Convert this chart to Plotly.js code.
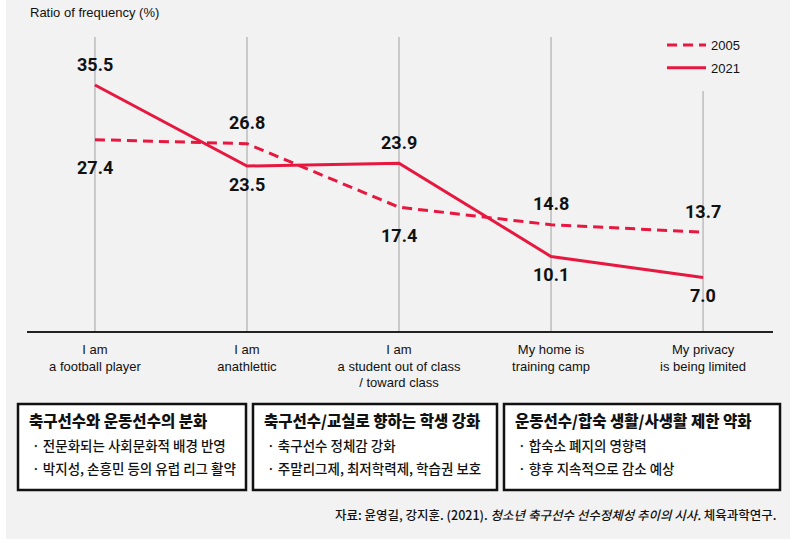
<!DOCTYPE html>
<html>
<head>
<meta charset="utf-8">
<script src="https://cdn.plot.ly/plotly-3.0.1.min.js"></script>
<style>html,body{margin:0;padding:0;background:#fff}</style>
</head>
<body>
<div id="chart" style="width:800px;height:543px"></div>
<script>
// ---- data ----
const categories = [
  'I am<br>a football player',
  'I am<br>anathlettic',
  'I am<br>a student out of class<br>/ toward class',
  'My home is<br>training camp',
  'My privacy<br>is being limited'
];
const seriesNames = ['2005', '2021'];
const values2005 = [27.4, 26.8, 17.4, 14.8, 13.7];
const values2021 = [35.5, 23.5, 23.9, 10.1, 7.0];
const yAxisTitle = 'Ratio of frequency (%)';

const boxTitles = [
  '축구선수와 운동선수의 분화',
  '축구선수/교실로 향하는 학생 강화',
  '운동선수/합숙 생활/사생활 제한 약화'
];
const boxBullets = [
  ['전문화되는 사회문화적 배경 반영', '박지성, 손흥민 등의 유럽 리그 활약'],
  ['축구선수 정체감 강화', '주말리그제, 최저학력제, 학습권 보호'],
  ['합숙소 폐지의 영향력', '향후 지속적으로 감소 예상']
];
const sourceNote = '자료: 윤영길, 강지훈. (2021). <i>청소년 축구선수 선수정체성 추이의 시사.</i> 체육과학연구.';

// ---- styling / geometry ----
const RED = '#e8173f';
const INK = '#111111';
const LATIN = 'Liberation Sans, Arial, sans-serif';
const NUMS = 'Roboto, Liberation Sans, sans-serif';
const HANGUL = 'Noto Sans CJK KR, sans-serif';

const M = {l: 27, r: 27, t: 37, b: 212};
const PW = 800 - M.l - M.r, PH = 543 - M.t - M.b;
const X = px => (px - M.l) / PW;            // pixel -> paper x
const Y = py => (M.t + PH - py) / PH;       // pixel -> paper y

const idx = categories.map((_, i) => i);

const traces = [
  {x: idx, y: values2005, name: seriesNames[0], legendgroup: 'a', type: 'scatter', mode: 'lines',
   line: {color: RED, width: 3, dash: '10px,6px'}},
  {x: idx, y: values2021, name: seriesNames[1], legendgroup: 'b', type: 'scatter', mode: 'lines',
   line: {color: RED, width: 3}}
];

// value labels: above the higher series, below the lower one
const annotations = [];
[values2005, values2021].forEach((vals, s) => {
  const other = s === 0 ? values2021 : values2005;
  vals.forEach((v, i) => {
    const above = v > other[i];
    annotations.push({
      x: i, y: v, xref: 'x', yref: 'y', text: v.toFixed(1), showarrow: false,
      yshift: above ? 21 : (s === 0 ? -28 : -18),
      font: {family: NUMS, size: 18, weight: 700, color: INK}
    });
  });
});

annotations.push({
  xref: 'paper', yref: 'paper', x: X(28), y: Y(13), xanchor: 'left', yanchor: 'middle',
  text: yAxisTitle, showarrow: false, font: {family: LATIN, size: 13, color: INK}
});

// gray panel behind everything
const shapes = [{
  type: 'rect', xref: 'paper', yref: 'paper', layer: 'below',
  x0: X(6), x1: X(790), y0: Y(539), y1: Y(0),
  fillcolor: '#f2f2f2', line: {width: 0}
}];

// vertical guide lines at each category (last one stops under the legend)
idx.forEach(i => {
  shapes.push({
    type: 'line', xref: 'x', yref: 'paper', layer: 'below',
    x0: i, x1: i, y0: 0, y1: i === idx.length - 1 ? Y(91) : 1,
    line: {color: '#b4b4b4', width: 1.3}
  });
});

// summary boxes under the axis
const boxEdges = [[18, 246], [253, 497], [504, 780]];
boxEdges.forEach(([a, b], k) => {
  shapes.push({
    type: 'rect', xref: 'paper', yref: 'paper', layer: 'above',
    x0: X(a), x1: X(b), y0: Y(490), y1: Y(404),
    fillcolor: '#ffffff', line: {color: '#111111', width: 2.5}
  });
  annotations.push({
    xref: 'paper', yref: 'paper', x: X(a + 9), y: Y(420), xanchor: 'left', yanchor: 'middle',
    text: boxTitles[k], showarrow: false,
    font: {family: HANGUL, size: 15.5, weight: 900, color: INK}
  });
  boxBullets[k].forEach((t, j) => {
    annotations.push({
      xref: 'paper', yref: 'paper', x: X(a + 12), y: Y(445 + j * 23), xanchor: 'left', yanchor: 'middle',
      text: '· ' + t, showarrow: false,
      font: {family: HANGUL, size: 13.5, weight: 500, color: INK}
    });
  });
});

annotations.push({
  xref: 'paper', yref: 'paper', x: X(779), y: Y(514), xanchor: 'right', yanchor: 'middle',
  text: sourceNote, showarrow: false, font: {family: HANGUL, size: 12.5, weight: 500, color: INK}
});

const layout = {
  width: 800, height: 543,
  margin: M,
  paper_bgcolor: '#ffffff',
  plot_bgcolor: 'rgba(0,0,0,0)',
  showlegend: true,
  legend: {
    x: X(662), y: Y(30), xanchor: 'left', yanchor: 'top',
    bgcolor: 'rgba(0,0,0,0)', font: {family: LATIN, size: 13, color: INK},
    itemwidth: 39, traceorder: 'grouped', tracegroupgap: 3
  },
  xaxis: {
    type: 'linear', range: [-0.447, 4.46],
    tickvals: idx, ticktext: categories, ticks: '',
    showgrid: false, zeroline: false,
    showline: true, linecolor: '#222222', linewidth: 2,
    tickfont: {family: LATIN, size: 13, color: INK},
    ticklabelstandoff: 5,
    fixedrange: true
  },
  yaxis: {
    range: [-0.94, 42.61], visible: false, fixedrange: true
  },
  shapes: shapes,
  annotations: annotations
};

Plotly.newPlot('chart', traces, layout, {displayModeBar: false, staticPlot: true});
</script>
</body>
</html>
